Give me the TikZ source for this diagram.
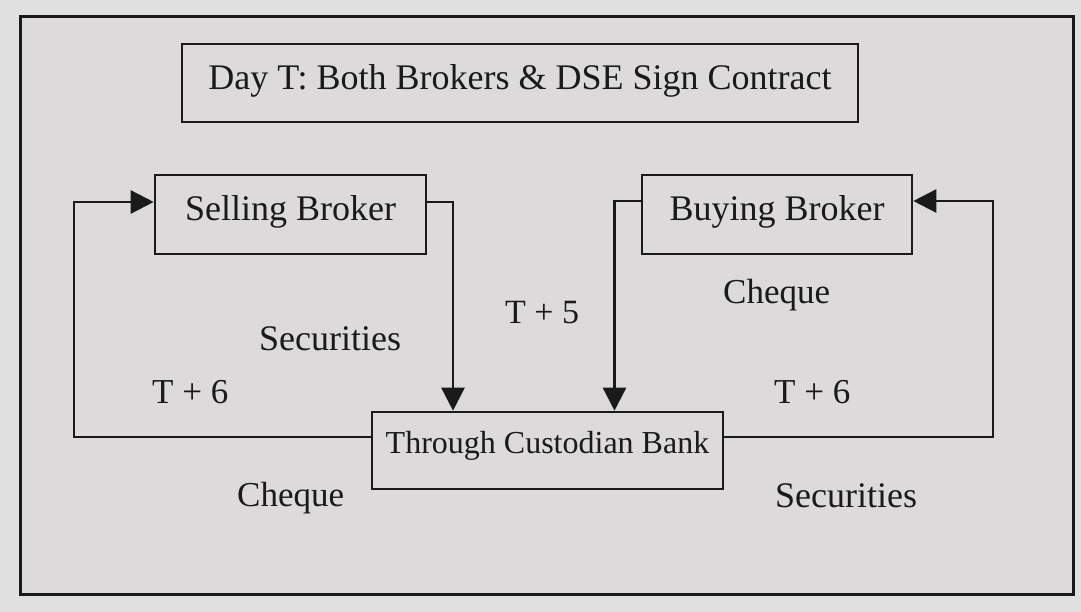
\documentclass[tikz,border=0pt]{standalone}
\usepackage{fontspec}
\setmainfont{Liberation Serif}
\usetikzlibrary{arrows.meta}
\definecolor{paper}{HTML}{E1E0E1}
\definecolor{panel}{HTML}{DCDADB}
\definecolor{ink}{HTML}{1A1A1A}
\tikzset{
  box/.style={draw=ink, line width=2.6pt, inner sep=0pt, text depth=0pt, text=ink},
  flow/.style={draw=ink, line width=2.6pt, -{Triangle[length=23pt,width=23pt]}},
  tag/.style={anchor=base west, inner sep=0pt, text=ink, font=\fontsize{35}{40}\selectfont},
  big/.style={font=\fontsize{36}{40}\selectfont},
}
\begin{document}
\begin{tikzpicture}[x=1pt, y=-1pt]
  % page and framed panel
  \fill[paper] (0,0) rectangle (1081,612);
  \useasboundingbox (0,0) rectangle (1081,612);
  \draw[ink, line width=3pt, fill=panel] (20,17) rectangle (1073,594);

  % boxes
  \node[box, big, minimum width=676pt, minimum height=78pt, text height=14pt]
    (title) at (520,83) {Day T: Both Brokers \& DSE Sign Contract};
  \node[box, big, minimum width=271pt, minimum height=79pt, text height=13pt]
    (sell) at (290.5,214.5) {Selling Broker};
  \node[box, big, minimum width=270pt, minimum height=79pt, text height=13pt]
    (buy) at (777,214.5) {Buying Broker};
  \node[box, font=\fontsize{32}{36}\selectfont, minimum width=351pt, minimum height=77pt, text height=5pt]
    (cust) at (547.5,450.5) {Through Custodian Bank};

  % flows into the custodian
  \draw[flow] ([yshift=12.5pt]sell.east) -| ([xshift=-94.5pt]cust.north);
  \draw[flow] ([yshift=13.5pt]buy.west) -| ([xshift=67pt]cust.north);

  % flows back to the brokers
  \coordinate (lx) at (74,0);
  \coordinate (rx) at (993,0);
  \draw[flow] ([yshift=13.5pt]cust.west) -- ([yshift=13.5pt]cust.west -| lx)
    |- ([yshift=12.5pt]sell.west);
  \draw[flow] ([yshift=13.5pt]cust.east) -- ([yshift=13.5pt]cust.east -| rx)
    |- ([yshift=13.5pt]buy.east);

  % labels
  \node[tag, font=\fontsize{36}{40}\selectfont] (secL) at (259,350) {Securities};
  \node[tag, font=\fontsize{34}{40}\selectfont] (t5) at (505,323) {T + 5};
  \node[tag] (chqR) at (723,303) {Cheque};
  \node[tag] (t6L) at (152,403) {T + 6};
  \node[tag] (t6R) at (774,403) {T + 6};
  \node[tag] (chqL) at (237,506) {Cheque};
  \node[tag, font=\fontsize{36}{40}\selectfont] (secR) at (775,507) {Securities};
\end{tikzpicture}
\end{document}
